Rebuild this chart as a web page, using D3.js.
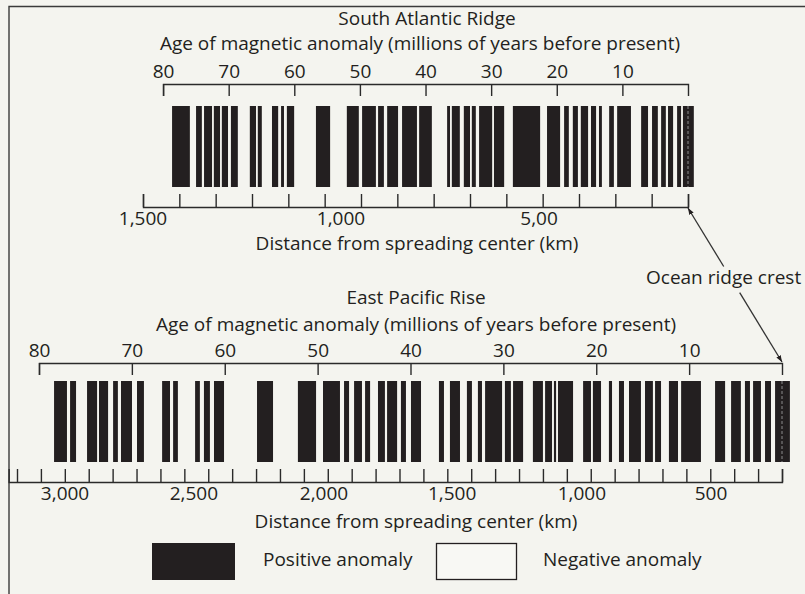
<!DOCTYPE html>
<html>
<head>
<meta charset="utf-8">
<script src="https://cdn.jsdelivr.net/npm/d3@7/dist/d3.min.js"></script>
<style>
  body { margin: 0; background: #f4f4ef; }
  svg { display: block; }
  text { font-family: "Open Sans", sans-serif; font-size: 19px; fill: #231f20; }
  .axis path, .axis line { stroke: #2a2a2a; stroke-width: 1.4; fill: none; }
  .axis text { font-family: "Open Sans", sans-serif; font-size: 19px; fill: #231f20; }
</style>
</head>
<body>
<script>
//Age ticks (millions of years) shared by both profiles
var ageTicks = [80, 70, 60, 50, 40, 30, 20, 10];

//Half spreading rates (km per million years)
var atlanticRate = 18.06;
var pacificRate = 38.85;

//Distance ticks (km), one every 100 km
var atlanticDistTicks = d3.range(0, 1501, 100);
var pacificDistTicks = d3.range(0, 3201, 100);

//Distance labels as printed, and where they sit along the axis (km)
var atlanticDistLabels = ["1,500", "1,000", "5,00"];
var atlanticLabelKm = [1500, 955, 410];
var pacificDistLabels = ["3,000", "2,500", "2,000", "1,500", "1,000", "500"];
var pacificLabelKm = [2999, 2460, 1916, 1380, 837, 297];

//Extent of the measured profile (km from crest, negative = other side)
var atlanticExtent = [1420, -16];
var pacificExtent = [3045, -33];

//Negative anomalies (white stripes), [far km, near km]
var atlanticNegative = [
  [1371, 1354], [1338, 1332], [1310, 1305], [1288, 1283], [1266, 1258],
  [1239, 1206], [1189, 1184], [1173, 1145], [1128, 1120], [1112, 1104],
  [1084, 1024], [985, 939], [906, 897], [859, 853], [837, 828],
  [798, 787], [746, 740], [705, 663], [655, 650], [628, 617],
  [600, 595], [584, 575], [539, 534], [506, 482], [407, 388],
  [352, 341], [328, 317], [303, 295], [275, 267], [253, 245],
  [237, 217], [204, 195], [157, 129], [110, 99], [83, 74],
  [61, 55], [41, 30], [19, 14]
];
var pacificNegative = [
  [2991, 2978], [2953, 2907], [2865, 2857], [2819, 2798], [2778, 2765],
  [2719, 2698], [2669, 2593], [2560, 2547], [2527, 2455], [2435, 2418],
  [2393, 2376], [2334, 2196], [2129, 2025], [1949, 1920], [1849, 1832],
  [1811, 1790], [1757, 1744], [1723, 1690], [1661, 1652], [1610, 1594],
  [1573, 1552], [1510, 1435], [1414, 1389], [1347, 1318], [1297, 1272],
  [1255, 1242], [1171, 1159], [1134, 1125], [1083, 1042], [1000, 991],
  [962, 954], [945, 937], [874, 832], [799, 791], [757, 724],
  [711, 682], [661, 640], [590, 573], [540, 531], [506, 473],
  [435, 422], [339, 280], [238, 213], [172, 155], [134, 121],
  [88, 71], [46, 29]
];

//Width and height
var w = 805;
var h = 594;
var ink = "#231f20";

var svg = d3.select("body")
            .append("svg")
            .attr("width", w)
            .attr("height", h);

svg.append("rect")
   .attr("width", w)
   .attr("height", h)
   .attr("fill", "#f4f4ef");

//Frame
svg.append("path")
   .attr("d", "M9,594 V6.5 H805")
   .attr("fill", "none")
   .attr("stroke", "#3a3a3a")
   .attr("stroke-width", 1.4);

//Distance scales (crest on the right)
var xAtl = d3.scaleLinear().domain([1500, 0]).range([143, 688]);
var xPac = d3.scaleLinear().domain([3200, 0]).range([17, 782]);

function drawProfile(p) {
    var x = p.x;
    var age = d3.scaleLinear()
                .domain([80, 0])
                .range([x(80 * p.rate), x(0)]);
    var g = svg.append("g");

    g.append("text")
     .attr("x", p.titleX).attr("y", p.titleY)
     .attr("text-anchor", "middle")
     .text(p.title);

    g.append("text")
     .attr("x", p.ageTitleX).attr("y", p.ageTitleY)
     .attr("text-anchor", "middle")
     .text("Age of magnetic anomaly (millions of years before present)");

    //Age axis, ticks hanging down, labels above
    g.append("g")
     .attr("class", "axis")
     .attr("transform", "translate(0," + p.ageY + ")")
     .call(d3.axisTop(age)
             .tickValues(ageTicks)
             .tickSize(-12)
             .tickSizeOuter(-12)
             .tickPadding(6)
             .tickFormat(d3.format("d")));

    //Stripes: positive anomaly as the band, negative cut out in white
    g.append("rect")
     .attr("x", x(p.extent[0]))
     .attr("y", p.bandTop)
     .attr("width", x(p.extent[1]) - x(p.extent[0]))
     .attr("height", p.bandBottom - p.bandTop)
     .attr("fill", ink);

    g.selectAll("rect.neg")
     .data(p.negative)
     .enter()
     .append("rect")
     .attr("class", "neg")
     .attr("x", function(d) { return x(d[0]); })
     .attr("y", p.bandTop)
     .attr("width", function(d) { return x(d[1]) - x(d[0]); })
     .attr("height", p.bandBottom - p.bandTop)
     .attr("fill", "#f4f4ef");

    //Ridge crest, dashed
    g.append("line")
     .attr("x1", x(0)).attr("x2", x(0))
     .attr("y1", p.bandTop).attr("y2", p.bandBottom)
     .attr("stroke", "#8c8c8c")
     .attr("stroke-width", 1)
     .attr("stroke-dasharray", "3,2");

    //Distance axis, ticks pointing up
    var xa = x.copy().domain([p.axisFar, 0]).range([x(p.axisFar), x(0)]);
    g.append("g")
     .attr("class", "axis")
     .attr("transform", "translate(0," + p.distY + ")")
     .call(d3.axisBottom(xa)
             .tickValues(p.distTicks)
             .tickSize(-13)
             .tickSizeOuter(-13)
             .tickFormat(""));

    g.selectAll("text.dist")
     .data(p.labels)
     .enter()
     .append("text")
     .attr("class", "dist")
     .attr("x", function(d, i) { return x(p.labelKm[i]); })
     .attr("y", p.distY + 18)
     .attr("text-anchor", "middle")
     .text(function(d) { return d; });

    g.append("text")
     .attr("x", p.distTitleX).attr("y", p.distTitleY)
     .attr("text-anchor", "middle")
     .text("Distance from spreading center (km)");
}

drawProfile({
    x: xAtl, rate: atlanticRate, title: "South Atlantic Ridge",
    titleX: 427, titleY: 25, ageTitleX: 420, ageTitleY: 50,
    ageY: 84, bandTop: 106, bandBottom: 187, distY: 207,
    extent: atlanticExtent, negative: atlanticNegative,
    axisFar: 1500, distTicks: atlanticDistTicks,
    labels: atlanticDistLabels, labelKm: atlanticLabelKm,
    distTitleX: 417, distTitleY: 250
});

drawProfile({
    x: xPac, rate: pacificRate, title: "East Pacific Rise",
    titleX: 416, titleY: 304, ageTitleX: 416, ageTitleY: 331,
    ageY: 363, bandTop: 381, bandBottom: 462, distY: 482,
    extent: pacificExtent, negative: pacificNegative,
    axisFar: 3235, distTicks: pacificDistTicks,
    labels: pacificDistLabels, labelKm: pacificLabelKm,
    distTitleX: 416, distTitleY: 528
});

//Arrow linking the two crests
var defs = svg.append("defs");
defs.append("marker")
    .attr("id", "head")
    .attr("viewBox", "0 0 8 6")
    .attr("refX", 8).attr("refY", 3)
    .attr("markerWidth", 7).attr("markerHeight", 5)
    .attr("markerUnits", "userSpaceOnUse")
    .attr("orient", "auto-start-reverse")
    .append("path")
    .attr("d", "M0,0 L8,3 L0,6 Z")
    .attr("fill", ink);

var p0 = [xAtl(0), 208], p1 = [xPac(0), 362];
var lerp = function(t) { return [p0[0] + (p1[0] - p0[0]) * t, p0[1] + (p1[1] - p0[1]) * t]; };
var a = lerp(0.38), b = lerp(0.55);

svg.append("line")
   .attr("x1", p0[0]).attr("y1", p0[1]).attr("x2", a[0]).attr("y2", a[1])
   .attr("stroke", "#333").attr("stroke-width", 1.3)
   .attr("marker-start", "url(#head)");
svg.append("line")
   .attr("x1", b[0]).attr("y1", b[1]).attr("x2", p1[0]).attr("y2", p1[1])
   .attr("stroke", "#333").attr("stroke-width", 1.3)
   .attr("marker-end", "url(#head)");

//Label kept inside the frame so it is not clipped
svg.append("text")
   .attr("x", 646).attr("y", 284)
   .text("Ocean ridge crest");

//Legend
var legend = svg.append("g");
legend.append("rect")
      .attr("x", 152).attr("y", 543).attr("width", 83).attr("height", 37)
      .attr("fill", ink);
legend.append("text")
      .attr("x", 263).attr("y", 566)
      .text("Positive anomaly");
legend.append("rect")
      .attr("x", 436.5).attr("y", 543.5).attr("width", 80).attr("height", 36)
      .attr("fill", "#f8f8f4").attr("stroke", ink).attr("stroke-width", 1.3);
legend.append("text")
      .attr("x", 543).attr("y", 566)
      .text("Negative anomaly");
</script>
</body>
</html>
